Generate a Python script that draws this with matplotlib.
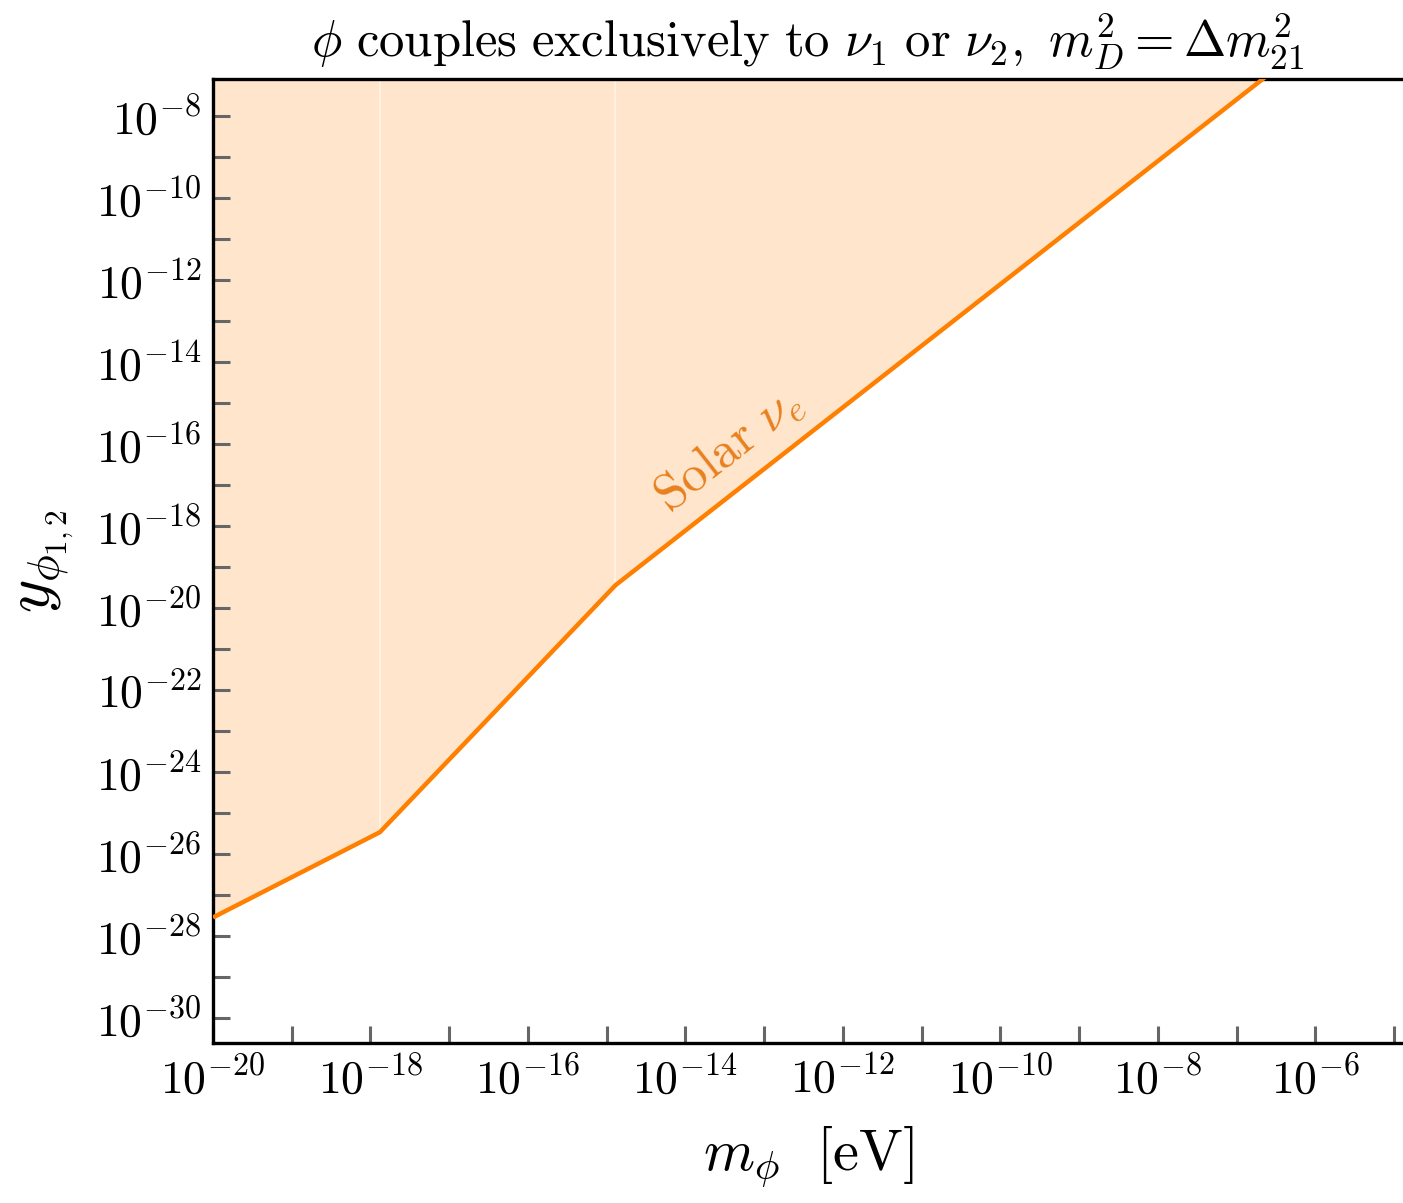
import numpy as np
import matplotlib
matplotlib.use("Agg")
import matplotlib.pyplot as plt
from matplotlib.ticker import FixedLocator, NullFormatter

plt.rcParams['mathtext.fontset'] = 'cm'
plt.rcParams['font.family'] = 'serif'
plt.rcParams['font.serif'] = ['cmr10', 'DejaVu Serif']
plt.rcParams['axes.unicode_minus'] = False

# Solar nu_e bound (knee points)
m_phi = [1e-20, 10**-17.88, 10**-14.89, 10**-6.6]
y_bound = [10**-27.55, 10**-25.47, 10**-19.45, 10**-7.0]
knees = [10**-17.88, 10**-14.89]
knee_y = [10**-25.47, 10**-19.45]

x_lo, x_hi = 1e-20, 10**-4.886
y_lo, y_hi = 10**-30.6, 10**-7.1

line_col = "#FF7F00"
fill_col = "#FFE5CC"
tick_col = "#666666"

fig = plt.figure(figsize=(14.03, 12.03), dpi=100)
ax = fig.add_axes([213/1403, (1203-1042.5)/1203, 1 - 213/1403, (1042.5-79)/1203])

ax.set_xscale("log")
ax.set_yscale("log")
ax.set_xlim(x_lo, x_hi)
ax.set_ylim(y_lo, y_hi)

ax.fill_between(m_phi, y_bound, y_hi * 10, color=fill_col, lw=0, zorder=1)
# faint seams in the shading at the knees
ax.vlines(knees, knee_y, y_hi, colors="#FFF4EA", lw=1.2, zorder=1.5)
ax.plot(m_phi, y_bound, color=line_col, lw=3.2, zorder=3, solid_capstyle="butt")

ax.text(10**-13.45, 10**-16.15, r"$\mathrm{Solar}\ \nu_e$", color="#E8801E",
        fontsize=37, rotation=38, ha="center", va="center", rotation_mode="anchor")

# ticks
xmaj = 10.0**np.arange(-20, -5, 2)
xmin = 10.0**np.arange(-19, -4, 2)
ymaj = 10.0**np.arange(-30, -7, 2)
ymin = 10.0**np.arange(-29, -7, 2)
ax.xaxis.set_major_locator(FixedLocator(xmaj))
ax.xaxis.set_minor_locator(FixedLocator(xmin))
ax.yaxis.set_major_locator(FixedLocator(ymaj))
ax.yaxis.set_minor_locator(FixedLocator(ymin))
ax.set_xticklabels([r"$10^{%d}$" % e for e in range(-20, -5, 2)])
ax.set_yticklabels([r"$10^{%d}$" % e for e in range(-30, -7, 2)])
ax.xaxis.set_minor_formatter(NullFormatter())
ax.yaxis.set_minor_formatter(NullFormatter())
ax.tick_params(which="both", direction="in", length=12, width=2.2, color=tick_col,
               top=False, right=False)
ax.tick_params(axis="both", which="major", labelsize=33)
ax.tick_params(axis="x", which="major", pad=10)
ax.tick_params(axis="y", which="major", pad=8)

for s in ax.spines.values():
    s.set_linewidth(2.4)
    s.set_color("black")
ax.spines["right"].set_visible(False)

ax.set_xlabel(r"$m_\phi\ \ [\mathrm{eV}]$", fontsize=42, labelpad=16)
ax.set_ylabel(r"$y_{\phi_{1,2}}$", fontsize=46, labelpad=14)
ax.set_title(r"$\phi\ \mathrm{couples\ exclusively\ to}\ \nu_1\ \mathrm{or}\ \nu_2,\ m_D^2 = \Delta m_{21}^2$",
             fontsize=36.5, pad=16)

fig.savefig("out.png", dpi=100)
